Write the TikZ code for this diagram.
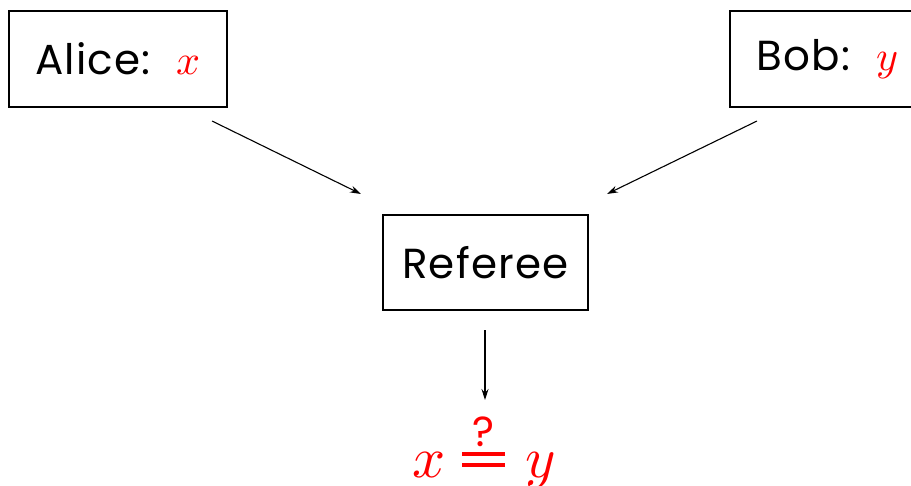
\documentclass[tikz,border=0pt]{standalone}
\usepackage{amsmath}
\usepackage{unicode-math}
\setmainfont{Poppins}[LetterSpace=3]
\setmathfont{Latin Modern Math}
\usetikzlibrary{arrows.meta}
\begin{document}
\begin{tikzpicture}[x=1pt,y=-1pt,
  box/.style={draw,line width=1.8pt,inner sep=0pt,font=\fontsize{42}{46}\selectfont},
  conn/.style={line width=1.1pt,-{Stealth[length=11pt,width=7pt]}}]
\useasboundingbox (0,0) rectangle (911,485);
\begin{scope}
\clip (0,0) rectangle (911,485);
\node[box,minimum width=218pt,minimum height=96pt] (alice) at (118,59) {Alice:\hspace{26pt}\textcolor{red}{$x$}};
\node[box,minimum width=194pt,minimum height=96pt] (bob) at (827,59) {Bob:\hspace{26pt}\textcolor{red}{$y$}};
\end{scope}
\node[box,minimum width=205pt,minimum height=95pt] (ref) at (485.5,262.5) {Referee};
\node[anchor=base,inner sep=0pt,text=red,font=\fontsize{58}{60}\selectfont] (res) at (484,477)
  {$x \mathrel{\mbox{\rlap{\rule[10pt]{43pt}{4pt}}\rlap{\rule[21pt]{43pt}{4pt}}\makebox[43pt]{\raisebox{31pt}{\fontsize{42}{42}\selectfont ?}}}}\kern4pt y$};
\coordinate (a1) at (212,121);
\coordinate (a2) at (361,194);
\coordinate (b1) at (757,121);
\coordinate (b2) at (607,194);
\coordinate (r1) at (485,330);
\coordinate (r2) at (485,400);
\draw[conn] (a1) -- (a2);
\draw[conn] (b1) -- (b2);
\draw[conn] (r1) -- (r2);
\end{tikzpicture}
\end{document}
